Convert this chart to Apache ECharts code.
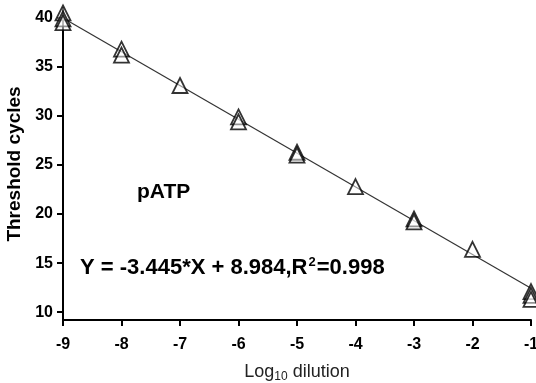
<!DOCTYPE html>
<html>
<head>
<meta charset="utf-8">
<script src="https://cdn.jsdelivr.net/npm/echarts@6/dist/echarts.min.js"></script>
<style>
  html, body { margin: 0; padding: 0; background: #fff; }
  #chart { width: 536px; height: 383px; }
</style>
</head>
<body>
<div id="chart"></div>
<script>
// measured replicates (log10 dilution, Ct)
const dilution = [-9, -9, -9, -8, -8, -7, -6, -6, -5, -5, -4, -3, -3, -2, -1, -1, -1];
const cycles = [40.5, 39.9, 39.5, 36.8, 36.2, 33.1, 29.9, 29.4, 26.3, 26.0, 22.8, 19.5, 19.2, 16.4, 12.1, 11.7, 11.3];
// fitted line ends
const fitX = [-9, -1];
const fitY = [39.99, 12.43];
const yTicks = [10, 15, 20, 25, 30, 35, 40];

const font = "Liberation Sans, Arial, sans-serif";
const chart = echarts.init(document.getElementById("chart"));

const option = {
  backgroundColor: "#fff",
  animation: false,
  grid: { left: 63, right: 5, top: 8, bottom: 63, outerBoundsMode: "none" },
  xAxis: {
    type: "value",
    min: -9,
    max: -1,
    interval: 1,
    splitLine: { show: false },
    axisLine: { onZero: false, lineStyle: { color: "#000", width: 2 } },
    axisTick: { length: 6, lineStyle: { color: "#000", width: 2 } },
    axisLabel: { color: "#000", fontFamily: font, fontWeight: "bold", fontSize: 16, margin: 17 },
    name: "{n|Log}{s|10}{n| dilution}",
    nameLocation: "middle",
    nameGap: 42,
    nameTextStyle: {
      rich: {
        n: { fontFamily: font, fontSize: 18, color: "#222" },
        s: { fontFamily: font, fontSize: 12, color: "#222", padding: [9, 0, 0, 0] }
      }
    }
  },
  yAxis: {
    type: "value",
    min: 9.2,
    max: 41,
    splitLine: { show: false },
    axisLine: { onZero: false, lineStyle: { color: "#000", width: 2 } },
    axisTick: { length: 6, customValues: yTicks, lineStyle: { color: "#000", width: 2 } },
    axisLabel: { customValues: yTicks, color: "#000", fontFamily: font, fontWeight: "bold", fontSize: 16, margin: 10 },
    name: "Threshold cycles",
    nameLocation: "middle",
    nameGap: 38,
    nameTextStyle: { color: "#000", fontFamily: font, fontWeight: "bold", fontSize: 19 }
  },
  graphic: [
    {
      type: "text", left: 137, top: 182,
      style: { text: "pATP", font: "bold 21px " + font, fill: "#000" }
    },
    {
      type: "text", left: 80, top: 256,
      style: {
        text: "{a|Y = -3.445*X + 8.984,R}{b|2}{a|=0.998}",
        rich: {
          a: { font: "bold 22px " + font, fill: "#000" },
          b: { font: "bold 13px " + font, fill: "#000", padding: [0, 1, 11, 1] }
        }
      }
    }
  ],
  series: [
    {
      type: "line",
      data: fitX.map((x, i) => [x, fitY[i]]),
      symbol: "none",
      lineStyle: { color: "#333", width: 1.2 },
      z: 1
    },
    {
      type: "scatter",
      data: dilution.map((x, i) => [x, cycles[i]]),
      symbol: "triangle",
      symbolSize: 15,
      itemStyle: { color: "rgba(255,255,255,0.6)", borderColor: "#000", borderWidth: 1.8 },
      z: 2
    }
  ]
};

chart.setOption(option);
</script>
</body>
</html>
